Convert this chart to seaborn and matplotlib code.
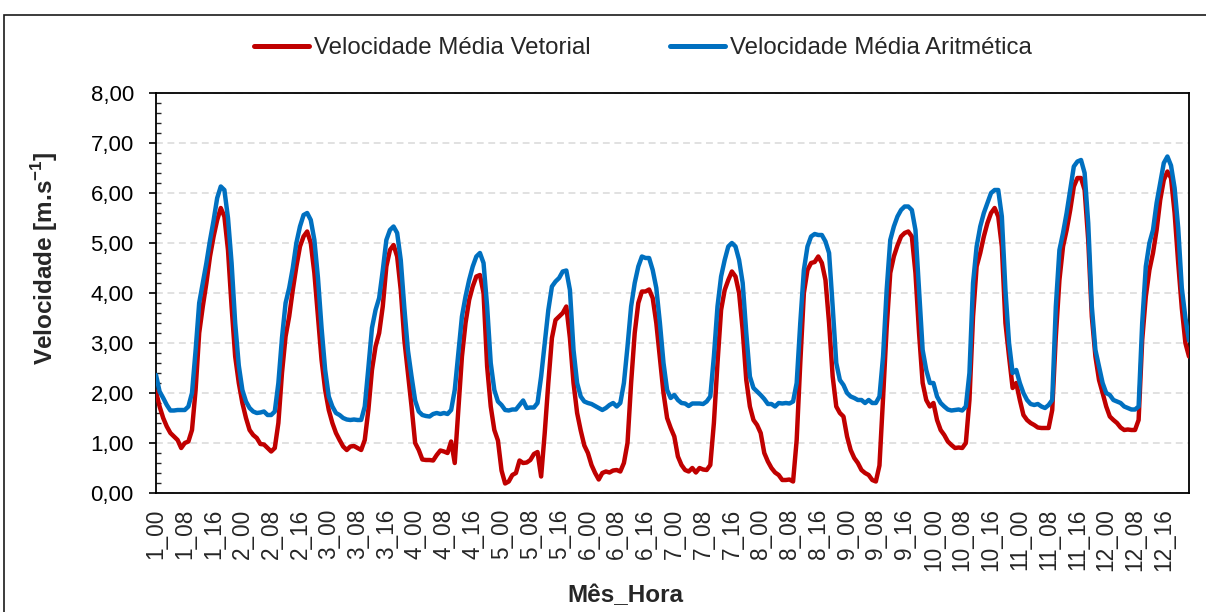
import numpy as np
import pandas as pd
import matplotlib
matplotlib.use("Agg")
import matplotlib.pyplot as plt
import seaborn as sns
from matplotlib.patches import Rectangle
from matplotlib.ticker import MultipleLocator, FuncFormatter

# ---------------- data (hourly means, 12 months x 24 h) ----------------
meses = list(range(1, 13))
horas = list(range(24))

vel_vetorial = [
    [2.03, 1.73, 1.50, 1.33, 1.20, 1.13, 1.06, 0.90, 1.00, 1.03, 1.26, 2.06, 3.20, 3.73, 4.20, 4.73, 5.13, 5.46, 5.70, 5.53, 4.86, 3.73, 2.73, 2.20],
    [1.80, 1.50, 1.26, 1.16, 1.10, 0.98, 0.97, 0.90, 0.83, 0.90, 1.40, 2.40, 3.13, 3.53, 4.06, 4.53, 4.93, 5.13, 5.23, 5.00, 4.40, 3.53, 2.66, 2.06],
    [1.66, 1.40, 1.20, 1.06, 0.93, 0.86, 0.93, 0.94, 0.90, 0.86, 1.06, 1.66, 2.46, 2.93, 3.20, 3.73, 4.53, 4.86, 4.96, 4.73, 4.06, 3.06, 2.40, 1.73],
    [1.00, 0.86, 0.67, 0.66, 0.66, 0.65, 0.76, 0.85, 0.83, 0.80, 1.03, 0.60, 1.66, 2.73, 3.40, 3.86, 4.13, 4.33, 4.36, 4.00, 2.53, 1.73, 1.26, 1.05],
    [0.45, 0.19, 0.23, 0.36, 0.40, 0.65, 0.60, 0.61, 0.66, 0.78, 0.82, 0.33, 1.20, 2.20, 3.10, 3.46, 3.53, 3.60, 3.73, 3.10, 2.20, 1.60, 1.25, 0.95],
    [0.80, 0.56, 0.40, 0.27, 0.40, 0.43, 0.41, 0.45, 0.46, 0.43, 0.60, 1.00, 2.20, 3.20, 3.80, 4.03, 4.03, 4.07, 3.90, 3.40, 2.70, 2.00, 1.50, 1.30],
    [1.13, 0.73, 0.56, 0.46, 0.43, 0.50, 0.41, 0.50, 0.47, 0.46, 0.56, 1.40, 2.60, 3.66, 4.06, 4.26, 4.43, 4.33, 4.00, 3.26, 2.26, 1.73, 1.46, 1.36],
    [1.20, 0.80, 0.63, 0.50, 0.41, 0.36, 0.26, 0.26, 0.27, 0.23, 1.06, 2.60, 4.00, 4.46, 4.60, 4.62, 4.73, 4.60, 4.26, 3.40, 2.33, 1.73, 1.60, 1.53],
    [1.13, 0.86, 0.70, 0.60, 0.46, 0.40, 0.36, 0.26, 0.23, 0.55, 1.90, 3.30, 4.40, 4.73, 4.95, 5.13, 5.20, 5.23, 5.13, 4.40, 3.20, 2.20, 1.86, 1.73],
    [1.80, 1.46, 1.26, 1.16, 1.03, 0.96, 0.90, 0.91, 0.90, 1.00, 1.86, 3.53, 4.53, 4.80, 5.13, 5.40, 5.60, 5.70, 5.53, 4.93, 3.40, 2.73, 2.10, 2.20],
    [1.86, 1.56, 1.46, 1.40, 1.36, 1.31, 1.30, 1.30, 1.30, 1.66, 3.13, 4.26, 4.93, 5.26, 5.66, 6.13, 6.30, 6.30, 6.06, 5.06, 3.53, 2.73, 2.26, 2.00],
    [1.73, 1.53, 1.46, 1.40, 1.31, 1.26, 1.27, 1.26, 1.26, 1.46, 3.06, 3.93, 4.46, 4.80, 5.26, 5.86, 6.26, 6.43, 6.30, 5.60, 4.60, 3.70, 3.00, 2.73],
]

vel_aritmetica = [
    [2.36, 2.03, 1.90, 1.76, 1.65, 1.65, 1.66, 1.66, 1.66, 1.73, 2.00, 2.85, 3.80, 4.20, 4.60, 5.05, 5.45, 5.90, 6.13, 6.06, 5.50, 4.60, 3.40, 2.55],
    [2.06, 1.83, 1.70, 1.63, 1.60, 1.61, 1.63, 1.56, 1.56, 1.63, 2.20, 3.10, 3.80, 4.10, 4.50, 5.00, 5.33, 5.56, 5.60, 5.46, 5.06, 4.30, 3.30, 2.46],
    [1.93, 1.73, 1.60, 1.56, 1.50, 1.47, 1.46, 1.47, 1.46, 1.46, 1.73, 2.50, 3.30, 3.66, 3.90, 4.45, 5.06, 5.26, 5.33, 5.20, 4.66, 3.70, 2.85, 2.33],
    [1.85, 1.63, 1.56, 1.54, 1.53, 1.58, 1.60, 1.58, 1.60, 1.58, 1.66, 2.06, 2.80, 3.53, 3.93, 4.26, 4.53, 4.73, 4.80, 4.60, 3.73, 2.60, 2.06, 1.83],
    [1.76, 1.66, 1.65, 1.67, 1.67, 1.76, 1.85, 1.70, 1.71, 1.71, 1.80, 2.33, 3.00, 3.66, 4.13, 4.23, 4.30, 4.43, 4.45, 4.06, 2.86, 2.20, 1.93, 1.83],
    [1.80, 1.78, 1.74, 1.70, 1.66, 1.70, 1.76, 1.80, 1.73, 1.80, 2.20, 2.93, 3.73, 4.20, 4.53, 4.73, 4.70, 4.70, 4.46, 4.10, 3.40, 2.60, 2.06, 1.90],
    [1.96, 1.86, 1.80, 1.79, 1.74, 1.79, 1.79, 1.79, 1.78, 1.83, 1.93, 2.73, 3.73, 4.33, 4.66, 4.93, 5.00, 4.93, 4.66, 4.20, 3.20, 2.33, 2.10, 2.03],
    [1.96, 1.88, 1.78, 1.78, 1.73, 1.80, 1.79, 1.80, 1.79, 1.83, 2.20, 3.40, 4.46, 4.93, 5.13, 5.18, 5.16, 5.16, 5.03, 4.80, 3.73, 2.60, 2.26, 2.16],
    [2.00, 1.93, 1.90, 1.86, 1.86, 1.80, 1.86, 1.80, 1.80, 1.93, 2.73, 4.06, 5.06, 5.33, 5.53, 5.66, 5.73, 5.73, 5.66, 5.26, 4.06, 2.86, 2.46, 2.20],
    [2.20, 1.93, 1.80, 1.73, 1.67, 1.65, 1.66, 1.67, 1.65, 1.73, 2.40, 4.20, 4.93, 5.33, 5.60, 5.80, 6.00, 6.06, 6.06, 5.53, 4.06, 3.00, 2.40, 2.46],
    [2.20, 2.00, 1.86, 1.78, 1.76, 1.78, 1.73, 1.70, 1.76, 1.86, 3.73, 4.86, 5.20, 5.60, 6.06, 6.53, 6.63, 6.66, 6.40, 5.40, 3.73, 2.86, 2.53, 2.20],
    [2.00, 1.96, 1.86, 1.83, 1.80, 1.73, 1.70, 1.67, 1.67, 1.73, 3.40, 4.53, 5.00, 5.26, 5.80, 6.20, 6.60, 6.73, 6.55, 6.10, 5.30, 4.10, 3.50, 3.05],
]

serie_vetorial = "Velocidade Média Vetorial"
serie_aritmetica = "Velocidade Média Aritmética"
tick_step = 8

# ---------------- build long table ----------------
rotulos = [f"{m}_{h:02d}" for m in meses for h in horas]
idx = np.arange(len(rotulos))
df = pd.DataFrame({
    "idx": np.concatenate([idx, idx]),
    "valor": np.concatenate([np.ravel(vel_vetorial), np.ravel(vel_aritmetica)]),
    "serie": [serie_vetorial] * len(idx) + [serie_aritmetica] * len(idx),
})

# ---------------- style ----------------
sns.set_style("ticks")
plt.rcParams["font.family"] = ["Liberation Sans", "DejaVu Sans"]
plt.rcParams["mathtext.fontset"] = "custom"
plt.rcParams["mathtext.rm"] = "Liberation Sans"
plt.rcParams["mathtext.bf"] = "Liberation Sans:bold"

W, H = 1206, 612
fig = plt.figure(figsize=(W / 100, H / 100), dpi=100)
ax = fig.add_axes([156 / W, 1 - 493 / H, 1033 / W, 400 / H])

palette = {serie_vetorial: "#C00000", serie_aritmetica: "#0070C0"}
sns.lineplot(data=df, x="idx", y="valor", hue="serie", palette=palette,
             linewidth=3.2, errorbar=None, ax=ax, legend=True, zorder=3)
for ln in ax.get_lines():
    ln.set_solid_joinstyle("round")
    ln.set_solid_capstyle("round")
handles, labels = ax.get_legend_handles_labels()
ax.get_legend().remove()
for h in handles:
    h.set_linewidth(3.6)

ax.set_xlim(0, len(idx) - 1)
ax.set_ylim(0, 8)
ax.set_xlabel("")
ax.set_ylabel("")

# y axis
ax.yaxis.set_major_locator(MultipleLocator(1))
ax.yaxis.set_minor_locator(MultipleLocator(0.2))
ax.yaxis.set_major_formatter(FuncFormatter(lambda v, p: f"{v:.2f}".replace(".", ",")))
ax.tick_params(axis="y", which="major", direction="out", length=5, width=1.2,
               pad=11, labelsize=16, colors="black")
ax.tick_params(axis="y", which="minor", direction="in", length=3.6, width=1.0)

# x axis
ax.set_xticks(idx[::tick_step])
ax.set_xticklabels(rotulos[::tick_step], rotation=90)
ax.tick_params(axis="x", which="both", length=0, pad=11, labelsize=16.3)

ax.yaxis.grid(True, which="major", color="#D9D9D9", linestyle=(0, (4.5, 3)), linewidth=1.1, zorder=0)
ax.xaxis.grid(False)
for s in ax.spines.values():
    s.set_visible(True)
    s.set_color("black")
    s.set_linewidth(1.3)

# labels
fig.text(45 / W, 1 - 258 / H, r"Velocidade [m.s$^{\mathbf{-1}}$]", rotation=90,
         ha="center", va="center", fontsize=17.5, fontweight="bold")
fig.text(625 / W, 1 - 596 / H, "Mês_Hora", ha="center", va="center",
         fontsize=17.5, fontweight="bold")

# legend
fig.legend(handles, labels, loc="center", bbox_to_anchor=(643 / W, 1 - 48 / H),
           ncol=2, frameon=False, handlelength=2.3, handletextpad=0.2,
           columnspacing=3.3, fontsize=17.3)

# outer chart-area border
fig.patches.append(Rectangle((4 / W, -0.05), 1.2, 1 - 15 / H + 0.05,
                             transform=fig.transFigure, fill=False,
                             edgecolor="#1a1a1a", linewidth=1.2))

fig.savefig("out.png", dpi=100)
